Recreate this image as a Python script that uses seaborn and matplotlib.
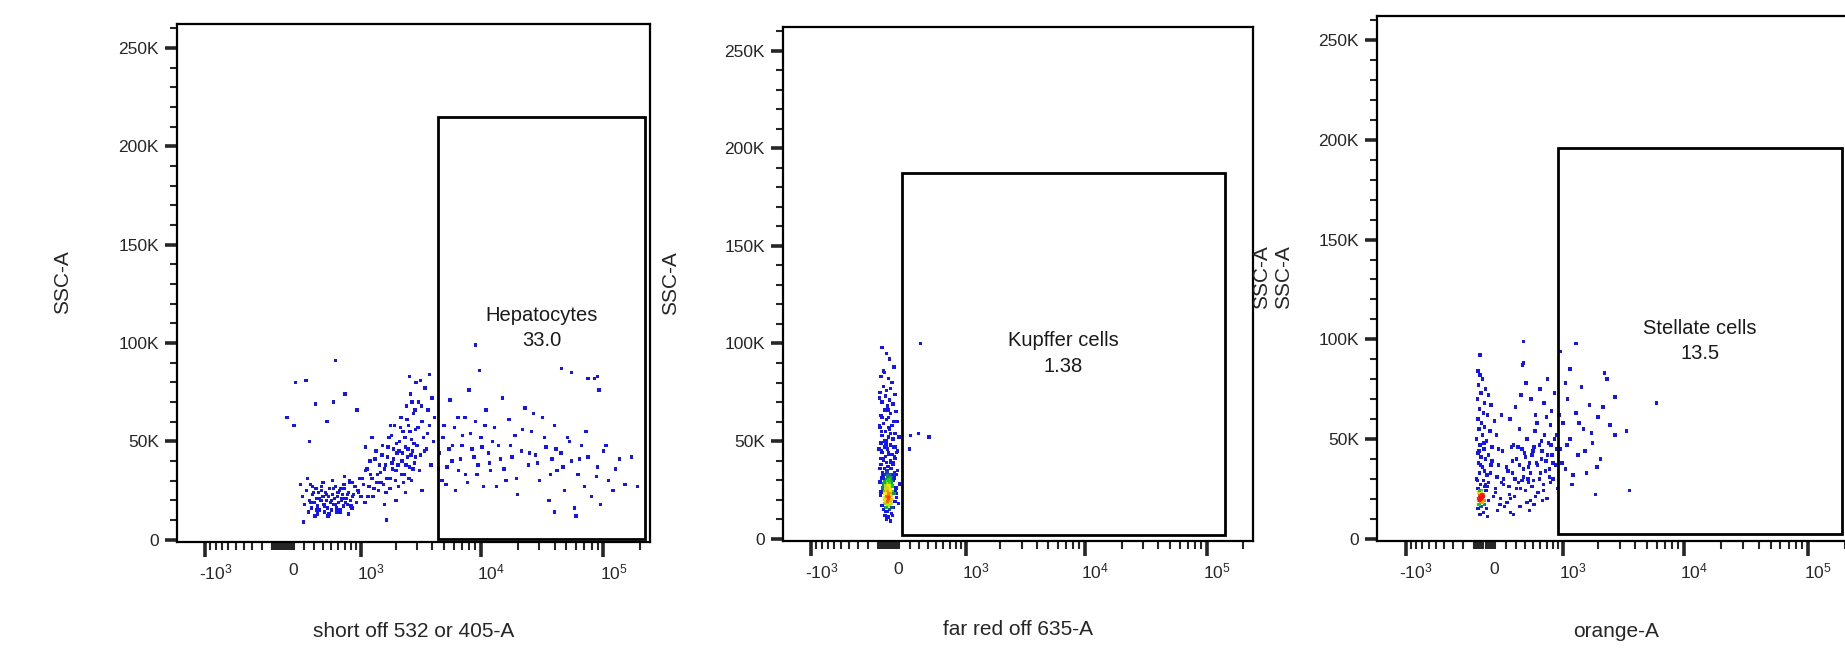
import numpy as np
import matplotlib
matplotlib.use("Agg")
import matplotlib.pyplot as plt
import matplotlib.transforms as mtransforms
from matplotlib.colors import LinearSegmentedColormap
import seaborn as sns

# ---- chart data ----
gate_names = ["Hepatocytes", "Kupffer cells", "Stellate cells"]
gate_freqs = ["33.0", "1.38", "13.5"]
x_labels = ["short off 532 or 405-A", "far red off 635-A", "orange-A"]
y_label = "SSC-A"

# gate rectangles, x in fluorescence units, y in SSC units
gate_x0 = [4460, 126, 900]
gate_x1 = [218000, 141000, 189000]
gate_y0 = [500, 2000, 2500]
gate_y1 = [214700, 187400, 195800]

x_ticks = [-1000, 0, 1000, 10000, 100000]
x_ticklabels = ["-$\\mathregular{10^3}$", "0", "$\\mathregular{10^3}$",
                "$\\mathregular{10^4}$", "$\\mathregular{10^5}$"]
y_ticks = [0, 50000, 100000, 150000, 200000, 250000]
y_ticklabels = ["0", "50K", "100K", "150K", "200K", "250K"]

# events, panel 1 (x = fluorescence, y = SSC in thousands)
p1_x = [180, 200, 220, 240, 250, 260, 270, 285, 300, 310,
        320, 330, 340, 350, 360, 375, 385, 400, 410, 420,
        430, 445, 455, 470, 480, 495, 505, 520, 530, 545,
        560, 575, 590, 600, 615, 630, 645, 660, 680, 700,
        720, 740, 760, 780, 800, 820, 850, 880, 910, 940,
        970, 1000, 230, 160, 190,
        1050, 1100, 1150, 1200, 1250, 1300, 1350, 1400, 1450, 1500,
        1550, 1600, 1650, 1700, 1750, 1800, 1850, 1900, 1950, 2000,
        2050, 2100, 2150, 2200, 2250, 2300, 2350, 2400, 2450, 2500,
        2550, 2600, 2650, 2700, 2750, 2800, 2850, 2900, 2950, 3000,
        3100, 3200, 3300, 3400, 3500, 3600, 3700, 3800, 3900, 4000,
        4100, 4200, 1250, 1600, 1100, 2000, 2700, 3300, 1800, 2400,
        2600, 3200, 3800,
        4600, 4800, 5000, 5300, 5600, 5900, 6200, 6500, 6800, 7100,
        7500, 8000, 8500, 9000, 9500, 10000, 10500, 11000, 11500, 12000,
        13000, 14000, 15000, 16000, 17000, 18000, 19000, 20000, 21500, 23000,
        24500, 26000, 28000, 30000, 32000, 34000, 36000, 38000, 40000, 42000,
        45000, 48000, 51000, 55000, 58000, 62000, 66000, 70000, 75000, 80000,
        85000, 90000, 95000, 100000, 110000, 120000, 135000, 150000, 170000, 190000,
        9060, 9800, 45600, 55000, 75000, 90000, 92000, 27000, 60000, 40000,
        560, 112, 214, 34, 101, 254, 312, 447, 530, 706, 915, 1660]
p1_y = [22, 18, 25, 14, 20, 28, 16, 23, 19, 12,
        26, 21, 17, 24, 15, 20, 27, 22, 18, 14,
        24, 20, 16, 22, 26, 19, 15, 23, 18, 21,
        27, 16, 22, 19, 25, 14, 20, 23, 17, 26,
        21, 18, 24, 29, 20, 16, 23, 27, 19, 25,
        31, 22, 31, 28, 9,
        28, 35, 22, 40, 31, 26, 45, 33, 38, 29,
        48, 36, 24, 42, 52, 31, 39, 46, 58, 35,
        44, 27, 50, 62, 40, 55, 33, 47, 68, 42,
        58, 37, 74, 51, 45, 64, 39, 56, 80, 48,
        70, 43, 60, 52, 77, 46, 66, 58, 38, 72,
        50, 62, 52, 18, 47, 20, 30, 25, 58, 24,
        83, 81, 84,
        44, 30, 58, 37, 71, 48, 25, 62, 41, 53,
        33, 76, 46, 60, 38, 52, 27, 66, 44, 35,
        57, 48, 72, 30, 61, 42, 53, 23, 45, 67,
        38, 55, 43, 30, 62, 47, 20, 41, 58, 35,
        44, 25, 52, 40, 16, 33, 48, 27, 42, 22,
        82, 37, 18, 45, 30, 25, 41, 28, 42, 27,
        99, 86, 87, 85, 82, 83, 76, 64, 12, 14,
        91, 80, 81, 62, 58, 50, 69, 60, 70, 74, 66, 10]
# more panel 1 events: core blob, rising cloud, inside the gate
p1_more_x = [265, 295, 325, 355, 385, 415, 445, 475, 505, 535,
             565, 595, 625, 655, 685, 715, 745, 775, 805, 835,
             280, 340, 400, 460, 520, 580, 640, 700, 760, 820,
             950, 1020, 1080, 1130, 1180, 1220, 1280, 1330, 1380, 1420,
             1480, 1530, 1580, 1630, 1680, 1720, 1780, 1830, 1880, 1920,
             1980, 2030, 2080, 2130, 2180, 2230, 2280, 2330, 2380, 2430,
             2480, 2530, 2580, 2630, 2680, 2730, 2780, 2830, 2880, 2930,
             3050, 3150, 3250, 3450, 3650,
             4500, 4900, 5200, 5500, 5800, 6100, 6600, 7000, 7400, 7800,
             8200, 8800, 9300, 10200, 10800, 11800, 12500, 13500, 14500, 15500,
             17500, 19500, 22000, 25000, 29000, 33000, 37000, 41000, 47000, 53000,
             64000, 72000, 88000, 105000, 125000]
p1_more_y = [19, 24, 15, 21, 25, 17, 23, 13, 20, 26,
             18, 24, 15, 21, 28, 19, 23, 30, 17, 22,
             27, 13, 29, 12, 30, 14, 26, 32, 13, 29,
             24, 31, 19, 36, 27, 33, 22, 41, 29, 25,
             34, 43, 28, 38, 31, 47, 26, 53, 36, 41,
             30, 49, 38, 45, 57, 33, 44, 29, 52, 38,
             61, 46, 31, 55, 43, 70, 36, 49, 66, 42,
             57, 35, 68, 45, 54,
             36, 52, 28, 46, 40, 57, 35, 48, 62, 29,
             54, 42, 33, 47, 58, 39, 50, 27, 41, 36,
             48, 31, 56, 44, 39, 52, 33, 46, 37, 50,
             41, 55, 32, 48, 36]

# events, panel 2
p2_x = [-60, -20, 10, 50, -40, -70, 0, 30, -50, 20,
        -80, 60, -30, 10, -60, 40, -10, -40, 70, 20,
        -70, 0, -20, 50,
        -50, 30, -80, 10, -30, 60, -60, 0, 40, -20,
        -70, 20, -40, 50, -10, 80, -60, 30, 0, -30,
        60, -50, 15, -20, 40,
        -70, 0, -40, 25, -15, 55, -55, 5, -30, 35,
        -10, -65, 15, -35, 45, -5, 25, -50, 0, -20,
        30, 10, -40, -10, 20, -25, 0, 40, -45, -5,
        15, -30, 5, -15, 25, -5, -40, 10, -20, 0,
        -10, 30, -30, 5, -5, 15, -20, 0, -35, 20,
        -10, 5, -25, 40, -50, 10, -15, 25, -35, 0,
        -20, 15, -60, 60, -75, 70, -80, 75,
        312, 210, 290, 410, 200]
p2_y = [98, 95, 92, 88, 85, 83, 82, 80, 78, 77,
        75, 74, 73, 71, 70, 69, 68, 66, 65, 64,
        63, 62, 61, 60,
        59, 58, 57, 56, 55, 54, 53, 52, 51, 50,
        49, 48, 47, 47, 46, 45, 44, 43, 43, 42,
        41, 40, 40, 39, 38,
        38, 37, 36, 36, 35, 34, 34, 33, 33, 32,
        32, 31, 31, 30, 30, 29, 29, 28, 28, 27,
        27, 27, 26, 26, 25, 25, 25, 24, 24, 24,
        23, 23, 23, 22, 22, 22, 21, 21, 21, 21,
        20, 20, 20, 20, 19, 19, 19, 18, 18, 18,
        17, 17, 16, 16, 15, 15, 14, 13, 12, 11,
        10, 9, 17, 19, 22, 26, 29, 23,
        100, 53, 54, 52, 46]
p2_more_x = [-85, -65, -45, -25, -5, 15, 35, 55, 75, 95,
             -80, -60, -40, -20, 0, 20, 40, 60, 80, 100,
             -75, -55, -35, -15, 5, 25, 45, 65, 85, -90,
             -70, -50, -30, -10, 10, 30, 50, 70, 90, -85,
             -65, -45, -25, -5, 15, 35, 55, 75, -55, -35,
             -15, 5, 25, 45, -40, -20, 0, 20, -30, -10]
p2_more_y = [72, 55, 86, 48, 66, 39, 58, 31, 44, 52,
             36, 62, 29, 76, 44, 54, 33, 47, 60, 28,
             41, 26, 50, 34, 57, 20, 39, 25, 35, 46,
             24, 31, 19, 37, 29, 16, 23, 33, 18, 58,
             45, 41, 14, 27, 36, 12, 42, 21, 32, 23,
             26, 30, 18, 33, 20, 16, 23, 25, 27, 19]

# events, panel 3
p3_x = [-60, -40, -20, -55, 10, -30, 40, -65, 0, 60,
        -45, -10, 30, -60, 90, -25, 0, -50, 50, -15,
        -70, 20, -40, 70, -5, -60, 35, -30, 10, -55,
        60, -20, 0, -45, 25, -70, -10, 40, -35, 5,
        -60, -25, 15, -50, -35, -20, -45, -30, -15, -40,
        -25, -55, -35, -20, -45, 0, -30, -60, 20, -10,
        -40, 30, 120, 150, 100, 180, 130, 170, 110, 160,
        -40, 390,
        210, 230, 250, 270, 290, 310, 330, 350, 370, 390,
        410, 430, 450, 470, 490, 510, 530, 550, 570, 590,
        610, 630, 650, 670, 690, 710, 730, 750, 770, 790,
        810, 830, 850, 870, 890, 240, 300, 360, 420, 480,
        540, 600, 660, 720, 780, 840, 390, 380, 280, 460,
        520, 640, 260, 340, 560, 700, 620, 440, 760, 880,
        950, 1000, 1050, 1100, 1150, 1200, 1300, 1300, 1350, 1450,
        1500, 1600, 1700, 1800, 1900, 2000, 2100, 2250, 2370, 2500,
        2750, 2750, 3400, 3600, 6000, 1150, 950]
p3_y = [84, 82, 80, 77, 75, 73, 72, 70, 68, 67,
        65, 63, 62, 60, 59, 58, 56, 55, 54, 52,
        50, 49, 47, 46, 45, 43, 42, 41, 40, 38,
        37, 36, 34, 33, 32, 30, 29, 28, 27, 26,
        25, 24, 24, 23, 22, 22, 21, 21, 20, 20,
        19, 19, 18, 18, 17, 17, 16, 15, 15, 13,
        12, 11, 14, 20, 25, 30, 37, 44, 52, 62,
        92, 99,
        18, 26, 13, 33, 21, 40, 28, 16, 45, 31,
        24, 50, 36, 19, 42, 29, 54, 38, 23, 47,
        33, 44, 27, 52, 39, 20, 48, 35, 57, 42,
        30, 50, 37, 45, 25, 60, 66, 72, 78, 70,
        62, 75, 68, 80, 64, 73, 88, 87, 12, 14,
        17, 19, 46, 55, 58, 61, 40, 30, 28, 52,
        45, 58, 35, 70, 50, 27, 63, 98, 42, 76,
        55, 33, 67, 48, 22, 61, 40, 83, 80, 57,
        71, 52, 54, 24, 68, 85, 94]
# more panel 3 events: the dense spot near zero, the blob, the right edge
p3_more_x = [-50, -45, -40, -35, -30, -25, -20, -15, -10, -5,
             -48, -42, -38, -33, -28, -22, -18, -12, -45, -30,
             -65, -35, -5, 25, 55, 85, 115, 145, 175, 205,
             235, 265, 295, 325, 355, 385, 415, 445, 475, 505,
             535, 565, 595, 625, 655, 685, 715, 745, 775, 805,
             -50, -20, 10, 40, 70, 100, 130, 160, 190, 220,
             250, 280, 310, 340, 370, 400, 430, 460, 490, 520,
             920, 980, 1080, 1220, 1380, 1550, 1750, 1950, 2200, 1050]
p3_more_y = [20, 22, 19, 21, 23, 18, 21, 20, 22, 19,
             17, 23, 20, 19, 21, 22, 18, 21, 24, 20,
             29, 37, 48, 26, 33, 21, 31, 17, 27, 36,
             22, 39, 30, 46, 25, 35, 41, 28, 33, 44,
             21, 37, 30, 49, 24, 34, 42, 31, 47, 38,
             44, 52, 27, 19, 39, 23, 45, 28, 16, 34,
             20, 47, 25, 37, 29, 43, 18, 38, 26, 46,
             62, 38, 47, 32, 58, 44, 53, 36, 66, 78]

LIN_WIDTH = 490          # width of the linear part of the biexponential-like axis
X_LIM = (-1770, 240000)
Y_LIM = (-1200, 262144)

sns.set_style("ticks")
plt.rcParams["font.family"] = ["Liberation Sans", "DejaVu Sans"]
plt.rcParams["mathtext.fontset"] = "custom"
plt.rcParams["mathtext.rm"] = "Liberation Sans"

# pseudocolor map like FlowJo dot plots
flow_cmap = LinearSegmentedColormap.from_list(
    "flow", [(0.0, "#1414f5"), (0.4, "#1414f5"), (0.58, "#10d010"),
             (0.74, "#f0f000"), (0.87, "#ff9000"), (1.0, "#ff1010")])


# local event density in (roughly) screen units, used for the dot colour
def event_density(xs, ys):
    tx = np.arcsinh(np.asarray(xs) / LIN_WIDTH) * 53.3
    ty = np.asarray(ys) * 1.97
    d2 = (tx[:, None] - tx[None, :]) ** 2 + (ty[:, None] - ty[None, :]) ** 2
    return np.exp(-d2 / (2 * 4.0 ** 2)).sum(axis=1)


def draw_panel(ax, xs, ys, i, ylabel_x):
    ax.set_xscale("asinh", linear_width=LIN_WIDTH)

    dens = event_density(xs, ys)
    sns.scatterplot(x=np.asarray(xs, dtype=float), y=np.asarray(ys, dtype=float) * 1000,
                    hue=dens, palette=flow_cmap, hue_norm=(1, 20),
                    s=6, marker="s", linewidth=0, legend=False, ax=ax)

    # gate
    gx0, gx1, gy0, gy1 = gate_x0[i], gate_x1[i], gate_y0[i], gate_y1[i]
    ax.add_patch(plt.Rectangle((gx0, gy0), gx1 - gx0, gy1 - gy0,
                               fill=False, edgecolor="black", linewidth=2.0, zorder=3))
    xc = LIN_WIDTH * np.sinh((np.arcsinh(gx0 / LIN_WIDTH) + np.arcsinh(gx1 / LIN_WIDTH)) / 2)
    yc = (gy0 + gy1) / 2
    ax.text(xc, yc, gate_names[i] + "\n" + gate_freqs[i], ha="center", va="center",
            fontsize=14.5, linespacing=1.45, color="#1a1a1a")

    ax.set_xlim(*X_LIM)
    ax.set_ylim(*Y_LIM)

    # axis ticks
    minor = ([-v for v in range(100, 1000, 100)] + [-v for v in range(10, 100, 10)]
             + list(range(10, 100, 10)) + list(range(100, 1000, 100))
             + list(range(2000, 10000, 1000)) + list(range(20000, 100000, 10000)) + [200000])
    ax.set_xticks(x_ticks)
    ax.set_xticklabels(x_ticklabels)
    ax.set_xticks(minor, minor=True)
    ax.set_yticks(y_ticks)
    ax.set_yticklabels(y_ticklabels)
    ax.set_yticks(range(0, 262144, 10000), minor=True)
    ax.tick_params(axis="x", which="major", length=11, width=2.6, pad=4, labelsize=12.5)
    ax.tick_params(axis="x", which="minor", length=6, width=1.5)
    ax.tick_params(axis="y", which="major", length=9, width=2.6, pad=4, labelsize=12.5)
    ax.tick_params(axis="y", which="minor", length=5, width=1.5)
    ax.tick_params(top=False, right=False, which="both")
    ticks = ax.xaxis.get_major_ticks()
    ticks[1].tick1line.set_visible(False)
    shift = mtransforms.ScaledTranslation(10 / 100, 0, ax.figure.dpi_scale_trans)
    for t in ticks:
        t.label1.set_transform(t.label1.get_transform() + shift)

    for sp in ax.spines.values():
        sp.set_linewidth(1.6)
        sp.set_color("black")

    ax.set_xlabel(x_labels[i], fontsize=15, va="center")
    ax.xaxis.set_label_coords(0.5, -0.172)
    ax.set_ylabel(y_label, fontsize=15, va="center")
    ax.yaxis.set_label_coords(ylabel_x, 0.502)


fig = plt.figure(figsize=(18.45, 6.49), dpi=100)
W, H = 1845, 649
# axes boxes in pixels: left, top, right, bottom
boxes = [(177, 24, 650, 542), (783, 27, 1253, 541), (1377, 16, 1855, 541)]
axes = []
for l, t, r, b in boxes:
    axes.append(fig.add_axes([l / W, (H - b) / H, (r - l) / W, (b - t) / H]))

draw_panel(axes[0], p1_x + p1_more_x, p1_y + p1_more_y, 0, -0.243)
draw_panel(axes[1], p2_x + p2_more_x, p2_y + p2_more_y, 1, -0.240)
draw_panel(axes[2], p3_x + p3_more_x, p3_y + p3_more_y, 2, -0.241)
# the third panel carries its SSC-A label twice in the original
axes[2].text(-0.195, 0.502, y_label, transform=axes[2].transAxes, rotation=90,
             ha="center", va="center", fontsize=15)

fig.savefig("out.png", dpi=100)
